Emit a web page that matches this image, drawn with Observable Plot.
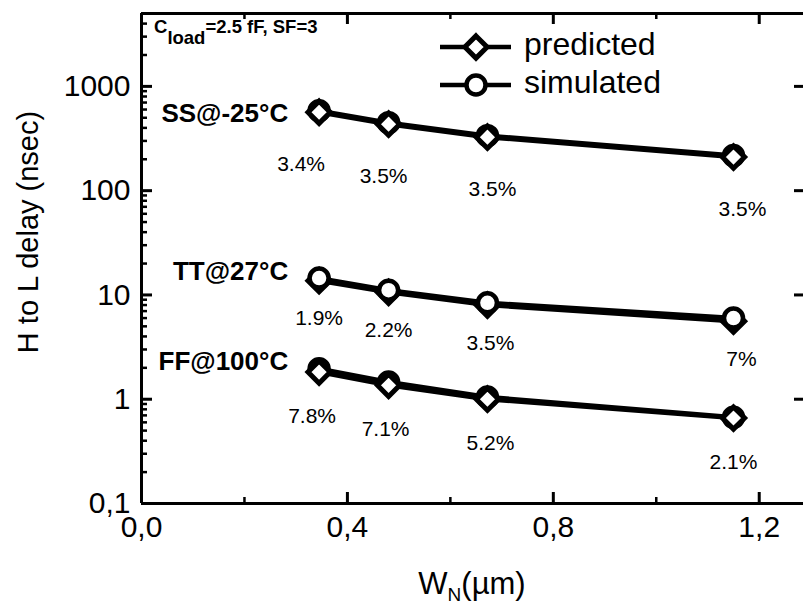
<!DOCTYPE html>
<html><head><meta charset="utf-8">
<script src="https://cdn.jsdelivr.net/npm/d3@7"></script>
<script src="https://cdn.jsdelivr.net/npm/@observablehq/plot@0.6"></script>
<style>body{margin:0;background:#fff}</style>
</head><body><div id="chart"></div>
<script>
// ---- data ----
const widths = [0.345, 0.48, 0.672, 1.15];            // W_N (µm)
const corners = ["SS@-25°C", "TT@27°C", "FF@100°C"];
const cornerLabelY = [552, 16.7, 2.31];                 // label anchor (nsec)
const ssPredicted = [565, 434, 326, 210];
const ssSimulated = [584, 449, 337, 217];
const ttPredicted = [13.7, 10.6, 8.0, 5.6];
const ttSimulated = [14.5, 11.1, 8.4, 6.0];
const ffPredicted = [1.82, 1.36, 1.0, 0.66];
const ffSimulated = [1.96, 1.46, 1.05, 0.67];
const ssErrors = ["3.4%", "3.5%", "3.5%", "3.5%"];
const ttErrors = ["1.9%", "2.2%", "3.5%", "7%"];
const ffErrors = ["7.8%", "7.1%", "5.2%", "2.1%"];
const yTicks = [0.1, 1, 10, 100, 1000];
const xTicks = [0, 0.4, 0.8, 1.2];
const xMinorTicks = [0.2, 0.6, 1.0];

// ---- layout ----
const W = 803, H = 606, mL = 141, mR = 0, mT = 13, mB = 103;
const fw = W - mL - mR, fh = H - mT - mB;

const groups = [
  {pred: ssPredicted, sim: ssSimulated, err: ssErrors, dy: 52, dx: [-18, -5, 5, 9], simFirst: true},
  {pred: ttPredicted, sim: ttSimulated, err: ttErrors, dy: 38, dx: [0, 0, 3, 8], simFirst: false},
  {pred: ffPredicted, sim: ffSimulated, err: ffErrors, dy: 44, dx: [-7, -3, 3, 0], simFirst: true}
];
const yMinor = [];
for (const d of [0.1, 1, 10, 100, 1000]) for (let k = 2; k <= 9; k++) if (k * d <= 5000) yMinor.push(k * d);
const fmt = d => String(d).replace(".", ",");
const fmtX = d => d.toFixed(1).replace(".", ",");

const font = "'Liberation Sans', Arial, sans-serif";
const marks = [];
// lines
for (const g of groups) {
  for (const vals of [g.pred, g.sim]) {
    marks.push(Plot.line(widths.map((x, i) => ({x, y: vals[i]})), {x: "x", y: "y", stroke: "black", strokeWidth: 4.5}));
  }
}
// dots
const diamond = (vals) => Plot.dot(widths.map((x, i) => ({x, y: vals[i]})), {x: "x", y: "y", symbol: "diamond2", r: 10, fill: "white", stroke: "black", strokeWidth: 5});
const circle = (vals) => Plot.dot(widths.map((x, i) => ({x, y: vals[i]})), {x: "x", y: "y", symbol: "circle", r: 9.5, fill: "white", stroke: "black", strokeWidth: 4.5});
for (const g of groups) {
  if (g.simFirst) marks.push(circle(g.sim), diamond(g.pred));
  else marks.push(diamond(g.pred), circle(g.sim));
  g.err.forEach((t, i) => marks.push(Plot.text([{x: widths[i], y: g.pred[i], t}], {x: "x", y: "y", text: "t", dy: g.dy, dx: g.dx[i], fontSize: 21, fill: "black"})));
}
// corner labels
marks.push(Plot.text(corners.map((c, i) => ({c, y: cornerLabelY[i]})), {x: () => 0.285, y: "y", text: "c", textAnchor: "end", fontSize: 26, fontWeight: "bold", fill: "black"}));
// frame (left, top, bottom; right edge is cropped)
marks.push(Plot.ruleX([0], {strokeWidth: 3}));
marks.push(Plot.ruleY([0.1, 5000], {strokeWidth: 3}));
// inward tick marks
marks.push(Plot.tickY(yTicks, {y: d => d, insetRight: fw - 11, strokeWidth: 3}));
marks.push(Plot.tickY(yMinor, {y: d => d, insetRight: fw - 6, strokeWidth: 2.5}));
marks.push(Plot.tickY(yTicks.slice(1), {y: d => d, insetLeft: fw - 9, strokeWidth: 3}));
marks.push(Plot.tickX(xTicks, {x: d => d, insetTop: fh - 11, strokeWidth: 3}));
marks.push(Plot.tickX(xMinorTicks, {x: d => d, insetTop: fh - 6, strokeWidth: 2.5}));
marks.push(Plot.tickX(xTicks, {x: d => d, insetBottom: fh - 11, strokeWidth: 3}));
marks.push(Plot.tickX(xMinorTicks, {x: d => d, insetBottom: fh - 6, strokeWidth: 2.5}));
// tick labels
marks.push(Plot.axisY(yTicks, {anchor: "left", tickSize: 0, tickPadding: 11, tickFormat: fmt, fontSize: 30, label: null}));
marks.push(Plot.axisX(xTicks, {anchor: "bottom", tickSize: 0, tickPadding: 12, tickFormat: fmtX, fontSize: 30, label: null}));

const chart = Plot.plot({
  width: W, height: H,
  marginLeft: mL, marginRight: mR, marginTop: mT, marginBottom: mB,
  style: {fontFamily: font, fontSize: "28px", color: "black", background: "white"},
  x: {domain: [0, 1.286], axis: null},
  y: {type: "log", domain: [0.1, 5000], axis: null},
  marks
});
document.getElementById("chart").appendChild(chart);

// annotations & legend
const svg = d3.select(chart);
const g = svg.append("g").attr("font-family", font).attr("fill", "black").attr("text-anchor", "start");
// y title
g.append("text").attr("transform", "translate(30,232) rotate(-90)").attr("text-anchor", "middle")
  .attr("dominant-baseline", "middle").attr("font-size", 29).text("H to L delay (nsec)");
// x title
const xt = g.append("text").attr("x", 472).attr("y", 594).attr("text-anchor", "middle").attr("font-size", 31);
xt.append("tspan").text("W");
xt.append("tspan").attr("font-size", 19).attr("dy", 7).text("N");
xt.append("tspan").attr("dy", -7).text("(µm)");
// condition note
const cn = g.append("text").attr("x", 154).attr("y", 33).attr("font-size", 18.5).attr("font-weight", "bold");
cn.append("tspan").text("C");
cn.append("tspan").attr("dy", 11).text("load");
cn.append("tspan").attr("dy", -11).text("=2.5 fF, SF=3");
// legend
const leg = [["predicted", 47, "diamond"], ["simulated", 85, "circle"]];
for (const [label, y, sym] of leg) {
  g.append("line").attr("x1", 440).attr("x2", 511).attr("y1", y).attr("y2", y).attr("stroke", "black").attr("stroke-width", 4.5);
  if (sym === "diamond") {
    g.append("path").attr("d", d3.symbol(d3.symbolDiamond2, Math.PI * 100)()).attr("transform", `translate(476,${y})`)
      .attr("fill", "white").attr("stroke", "black").attr("stroke-width", 5);
  } else {
    g.append("circle").attr("cx", 476).attr("cy", y).attr("r", 9.5).attr("fill", "white").attr("stroke", "black").attr("stroke-width", 4.5);
  }
  g.append("text").attr("x", 524).attr("y", y).attr("dominant-baseline", "middle").attr("font-size", 32).text(label);
}
</script>
</body></html>
